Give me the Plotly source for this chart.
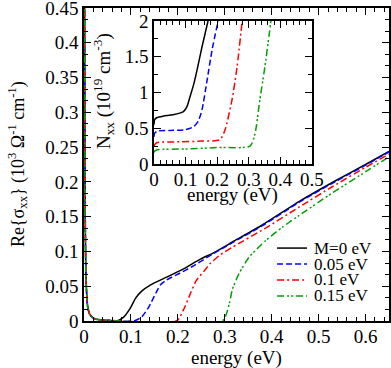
import plotly.graph_objects as go

# ── Dados ────────────────────────────────────────────────────────────────────
labels = ["M=0 eV", "0.05 eV", "0.1 eV", "0.15 eV"]
colors = ["#000000", "#0000ff", "#ff0000", "#00a000"]
dashes = ["solid", "6px,3px", "7px,3px,2px,3px", "7px,3px,2px,2px,2px,3px"]

# pico de Drude perto de E=0 (comum)
drude_e = [0.0, 0.001, 0.002, 0.003, 0.004, 0.006, 0.008, 0.012, 0.02, 0.03, 0.05]
drude_s = [0.9, 0.6, 0.25, 0.12, 0.07, 0.035, 0.02, 0.01, 0.004, 0.002, 0.001]

# parte interbanda: Re{sigma_xx}
e_m0 = [0.07, 0.085, 0.1, 0.11, 0.123, 0.142, 0.176, 0.212, 0.248, 0.276, 0.32, 0.38, 0.459, 0.537, 0.6, 0.65]
s_m0 = [0.0, 0.006, 0.02, 0.033, 0.043, 0.052, 0.063, 0.075, 0.089, 0.098, 0.115, 0.138, 0.172, 0.202, 0.225, 0.244]

e_m05 = [0.106, 0.123, 0.138, 0.153, 0.163, 0.176, 0.205, 0.23, 0.276, 0.32, 0.38, 0.459, 0.537, 0.6, 0.65]
s_m05 = [0.0, 0.006, 0.02, 0.04, 0.052, 0.059, 0.069, 0.078, 0.097, 0.114, 0.137, 0.171, 0.201, 0.224, 0.243]

e_m10 = [0.197, 0.212, 0.227, 0.24, 0.255, 0.268, 0.29, 0.316, 0.388, 0.459, 0.529, 0.6, 0.65]
s_m10 = [0.0, 0.016, 0.04, 0.059, 0.071, 0.082, 0.095, 0.106, 0.134, 0.164, 0.193, 0.221, 0.240]

e_m15 = [0.295, 0.31, 0.316, 0.331, 0.352, 0.388, 0.423, 0.459, 0.529, 0.601, 0.65]
s_m15 = [0.0, 0.026, 0.045, 0.069, 0.092, 0.116, 0.135, 0.152, 0.184, 0.215, 0.236]

# inset: N_xx
ne_m0 = [0.0, 0.002, 0.01, 0.03, 0.06, 0.092, 0.104, 0.114, 0.126, 0.136, 0.152, 0.171]
n_m0 = [0.55, 0.62, 0.65, 0.67, 0.69, 0.73, 0.8, 0.94, 1.12, 1.31, 1.64, 2.0]

ne_m05 = [0.0, 0.002, 0.01, 0.05, 0.1, 0.125, 0.14, 0.152, 0.168, 0.184, 0.203]
n_m05 = [0.38, 0.43, 0.46, 0.47, 0.48, 0.52, 0.6, 0.76, 1.17, 1.6, 2.0]

ne_m10 = [0.0, 0.002, 0.01, 0.08, 0.15, 0.209, 0.225, 0.247, 0.263, 0.279]
n_m10 = [0.25, 0.27, 0.30, 0.31, 0.32, 0.34, 0.48, 0.9, 1.36, 2.0]

ne_m15 = [0.0, 0.002, 0.01, 0.1, 0.2, 0.304, 0.32, 0.335, 0.351, 0.37]
n_m15 = [0.16, 0.18, 0.20, 0.21, 0.23, 0.25, 0.43, 0.9, 1.36, 2.0]

# ── Estilo ───────────────────────────────────────────────────────────────────
_FONT = "Liberation Serif, Times New Roman, serif"
_AX = dict(
    showline=True, linecolor="black", linewidth=1.5, mirror="allticks",
    ticks="inside", ticklen=7, tickwidth=1.2, tickcolor="black",
    showgrid=False, zeroline=False, ticklabeloverflow="allow",
    tickfont=dict(family=_FONT, size=19, color="black"),
)

fig = go.Figure()

main_e = [drude_e + e_m0, drude_e + e_m05, drude_e + e_m10, drude_e + e_m15]
main_s = [drude_s + s_m0, drude_s + s_m05, drude_s + s_m10, drude_s + s_m15]
for i in range(4):
    fig.add_trace(go.Scatter(
        x=main_e[i], y=main_s[i], mode="lines", name=labels[i], showlegend=False,
        line=dict(color=colors[i], width=1.5, dash=dashes[i], shape="spline", smoothing=0.6),
    ))

ins_e = [ne_m0, ne_m05, ne_m10, ne_m15]
ins_n = [n_m0, n_m05, n_m10, n_m15]
for i in range(4):
    fig.add_trace(go.Scatter(
        x=ins_e[i], y=ins_n[i], mode="lines", showlegend=False,
        xaxis="x2", yaxis="y2",
        line=dict(color=colors[i], width=1.5, dash=dashes[i], shape="spline", smoothing=0.6),
    ))

# legenda manual (linhas compactas como no xmgrace)
leg_y = [0.233, 0.182, 0.131, 0.080]
shapes = [dict(type="rect", xref="paper", yref="paper", x0=0.2295, x1=0.7475,
               y0=0.5016, y1=0.9585, fillcolor="white", line=dict(width=0), layer="below")]
annotations = []
for i in range(4):
    shapes.append(dict(type="line", xref="paper", yref="paper", x0=0.633, x1=0.731,
                       y0=leg_y[i], y1=leg_y[i],
                       line=dict(color=colors[i], width=1.5, dash=dashes[i])))
    annotations.append(dict(text=labels[i], xref="paper", yref="paper", x=0.748, y=leg_y[i],
                            xanchor="left", yanchor="middle", showarrow=False,
                            font=dict(size=17)))

annotations += [
    dict(text="energy (eV)", xref="paper", yref="paper", x=0.5, y=-0.118,
         xanchor="center", yanchor="middle", showarrow=False, font=dict(size=19)),
    dict(text="energy (eV)", xref="paper", yref="paper", x=0.4885, y=0.404,
         xanchor="center", yanchor="middle", showarrow=False, font=dict(size=19)),
    dict(text="Re{σ<sub>xx</sub>} (10<sup>3</sup> Ω<sup>-1</sup> cm<sup>-1</sup>)",
         xref="paper", yref="paper", x=-0.218, y=0.5, textangle=-90,
         xanchor="center", yanchor="middle", showarrow=False, font=dict(size=18)),
    dict(text="N<sub>xx</sub> (10<sup>19</sup> cm<sup>-3</sup>)",
         xref="paper", yref="paper", x=0.066, y=0.735, textangle=-90,
         xanchor="center", yanchor="middle", showarrow=False, font=dict(size=19)),
]

fig.update_layout(
    width=391, height=368,
    paper_bgcolor="white", plot_bgcolor="white",
    margin=dict(l=84, r=2, t=8, b=47, autoexpand=False),
    font=dict(family=_FONT, size=19, color="black"),
    showlegend=False,
    xaxis=dict(range=[0, 0.65], tickvals=[0, 0.1, 0.2, 0.3, 0.4, 0.5, 0.6],
               ticktext=["0", "0.1", "0.2", "0.3", "0.4", "0.5", "0.6"],
               minor=dict(ticks="inside", dtick=0.02, tick0=0, ticklen=4, tickcolor="black"),
               ticklabelstandoff=-3, **_AX),
    yaxis=dict(range=[0, 0.45], tickvals=[0, 0.05, 0.1, 0.15, 0.2, 0.25, 0.3, 0.35, 0.4, 0.45],
               ticktext=["0", "0.05", "0.1", "0.15", "0.2", "0.25", "0.3", "0.35", "0.4", "0.45"],
               minor=dict(ticks="inside", dtick=0.05 / 3, tick0=0, ticklen=4, tickcolor="black"),
               **_AX),
    xaxis2=dict(domain=[0.2295, 0.7475], anchor="y2", range=[0, 0.5],
                tickvals=[0, 0.1, 0.2, 0.3, 0.4, 0.5],
                ticktext=["0", "0.1", "0.2", "0.3", "0.4", "0.5"],
                minor=dict(ticks="inside", dtick=0.02, tick0=0, ticklen=4, tickcolor="black"),
                ticklabelstandoff=-3, **_AX),
    yaxis2=dict(domain=[0.5016, 0.9585], anchor="x2", range=[0, 2],
                tickvals=[0, 0.5, 1, 1.5, 2], ticktext=["0", "0.5", "1", "1.5", "2"],
                minor=dict(ticks="inside", dtick=0.25, tick0=0, ticklen=4, tickcolor="black"),
                **_AX),
    shapes=shapes,
    annotations=annotations,
)

# remove a margem padrão do <body> para a figura ocupar a janela inteira
fig.write_html("out.html", config={"displayModeBar": False},
               post_script="document.body.style.margin='0';")
